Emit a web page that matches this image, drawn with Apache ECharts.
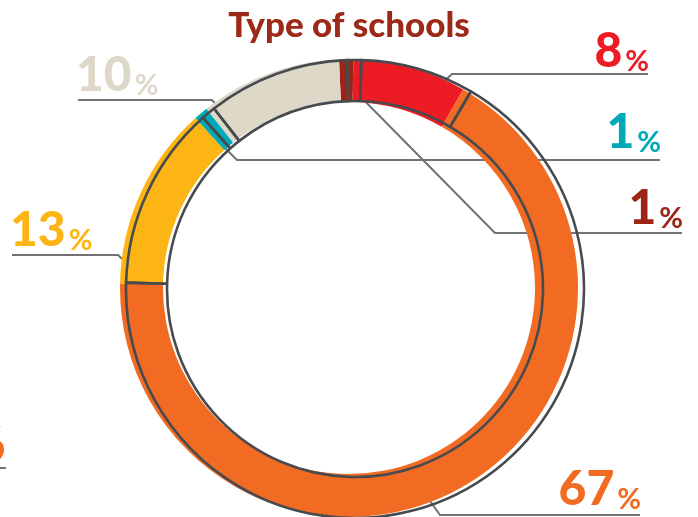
<!DOCTYPE html>
<html><head><meta charset="utf-8">
<script src="https://cdn.jsdelivr.net/npm/echarts@6/dist/echarts.min.js"></script>
<style>html,body{margin:0;padding:0;background:#fff}#c{width:698px;height:517px}</style>
</head><body><div id="c"></div>
<script>
// ---- data ----
const titleText = 'Type of schools';
const categories = ['Type A', 'Type B', 'Type C', 'Type D', 'Type E', 'Type F'];
const values = [1, 8, 67, 13, 1, 10];
const colors = ['#9c2516', '#ed1c24', '#f26b23', '#fdb515', '#00a9b6', '#ddd8c8'];

// ---- label / leader-line layout (annotation placement only) ----
const labelLayouts = [
  { x: 683, y: 233, align: 'right', pts: [[347, 83], [495, 233], [682, 233]] },
  { x: 649, y: 76,  align: 'right', pts: [[437, 88], [452, 74], [648, 74]] },
  { x: 641, y: 514, align: 'right', pts: [[430, 501], [440, 515], [640, 515]] },
  { x: 10,  y: 255, align: 'left',  pts: [[132, 268], [118, 255], [12, 255]] },
  { x: 661, y: 157, align: 'right', pts: [[225, 148], [237, 160], [660, 160]] },
  { x: 76,  y: 100, align: 'left',  pts: [[223, 112], [212, 100], [78, 100]] }
];

const chart = echarts.init(document.getElementById('c'), null, { renderer: 'canvas' });
const fillData = categories.map((c, i) => ({
  name: c, value: values[i],
  itemStyle: { color: colors[i] },
  label: { color: colors[i] }
}));
const outlineData = categories.map((c, i) => ({ name: c, value: values[i] }));

chart.setOption({
  animation: false,
  title: {
    text: titleText, left: 'center', top: 3,
    textStyle: { fontFamily: 'Lato', fontWeight: 900, fontSize: 35, color: '#9d2a18' }
  },
  series: [
    {
      type: 'pie', center: [349, 288], radius: [186, 229], startAngle: 92.5,
      clockwise: true, avoidLabelOverlap: false, silent: true,
      itemStyle: { borderWidth: 0 },
      emphasis: { disabled: true },
      label: {
        show: true, position: 'outside',
        formatter: p => `{n|${p.value}}{p|%}`,
        rich: {
          n: { fontFamily: 'Lato', fontWeight: 900, fontSize: 48, lineHeight: 46, verticalAlign: 'bottom' },
          p: { fontFamily: 'Lato', fontWeight: 'bold', fontSize: 29, lineHeight: 46, verticalAlign: 'bottom', padding: [0, 0, 0, 3] }
        }
      },
      labelLine: { show: true, lineStyle: { color: '#707275', width: 2 } },
      labelLayout: params => {
        const L = labelLayouts[params.dataIndex];
        return { x: L.x, y: L.y, align: L.align, verticalAlign: 'bottom', labelLinePoints: L.pts };
      },
      data: fillData
    },
    {
      type: 'pie', center: [355, 289], radius: [188, 229], startAngle: 92,
      clockwise: true, silent: true,
      emphasis: { disabled: true },
      label: { show: false }, labelLine: { show: false },
      itemStyle: { color: 'rgba(0,0,0,0)', borderColor: '#474a4e', borderWidth: 2.6 },
      data: outlineData
    }
  ],
  graphic: [
    { type: 'text', left: -23, top: 422, style: { text: '6', fill: '#f26b23', font: '900 49px Lato' } },
    { type: 'line', shape: { x1: 0, y1: 468, x2: 6, y2: 468 }, style: { stroke: '#707275', lineWidth: 2 } }
  ]
});
</script>
</body></html>
